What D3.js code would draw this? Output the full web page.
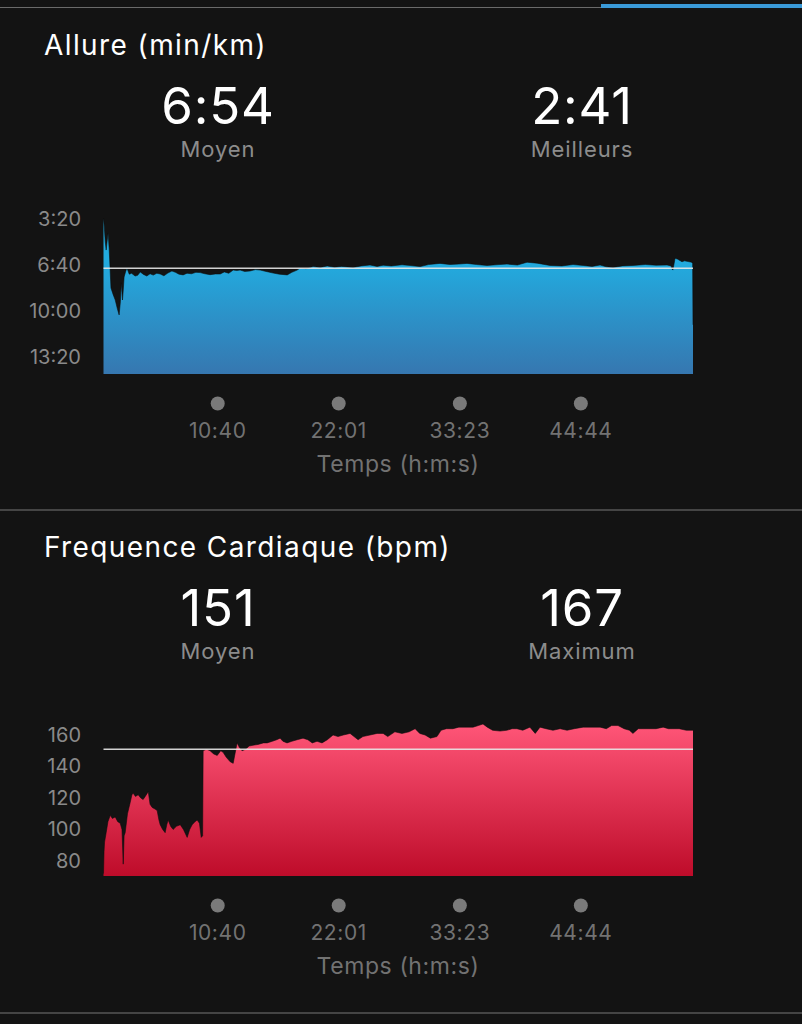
<!DOCTYPE html>
<html><head><meta charset="utf-8">
<script src="https://cdn.jsdelivr.net/npm/d3@7"></script>
<style>
html,body{margin:0;padding:0;background:#131313;}
svg{display:block;}
text{font-family:Inter,"Liberation Sans",Arial,sans-serif;}
</style></head>
<body>
<script>
// ---------- DATA ----------
const xTickValues = [640, 1321, 2003, 2684];           // seconds
const xDomain = [0, 3318];                              // seconds

const paceTitle = "Allure (min/km)";
const paceStats = [{value:"6:54", label:"Moyen"}, {value:"2:41", label:"Meilleurs"}];
const paceAvg = 414;                                    // s/km
const paceTicks = [200, 400, 600, 800];                 // s/km -> 3:20 6:40 10:00 13:20
const paceTime = [0,4,10,15,20,26,32,42,55,66,78,88,95,100,104,107,112,116,124,132,145,158,178,192,207,225,244,262,280,300,319,340,362,385,405,425,448,470,495,520,544,570,600,630,657,680,705,730,750,769,795,825,855,882,915,955,990,1034,1060,1090,1107,1140,1180,1220,1259,1300,1340,1405,1450,1500,1540,1574,1620,1680,1726,1782,1830,1894,1950,2000,2046,2100,2159,2210,2271,2330,2384,2440,2513,2580,2643,2700,2750,2795,2830,2868,2920,2980,3050,3110,3172,3195,3200,3205,3217,3230,3256,3270,3284,3310,3316,3318];
const paceVal  = [197,230,300,335,300,261,330,500,530,552,590,617,560,478,520,552,500,452,430,413,440,436,448,445,430,441,448,438,444,436,439,447,435,426,432,440,443,436,438,432,433,438,442,439,439,430,436,422,424,422,428,426,420,422,428,435,440,443,432,422,413,416,407,411,404,410,406,411,404,400,406,401,404,399,402,407,398,393,398,396,393,398,402,399,396,400,388,392,402,404,398,402,406,400,408,411,404,402,398,401,400,404,418,422,371,374,386,382,384,388,393,660];

const hrTitle = "Frequence Cardiaque (bpm)";
const hrStats = [{value:"151", label:"Moyen"}, {value:"167", label:"Maximum"}];
const hrAvg = 151;
const hrTicks = [80, 100, 120, 140, 160];
const hrTime = [0,3,6,15,25,38,50,66,80,94,104,111,116,122,135,150,160,167,180,195,210,223,235,252,262,274,290,302,312,319,333,347,356,364,378,392,410,432,450,471,485,499,515,527,540,550,558,561,580,600,620,640,660,673,690,713,730,740,752,765,780,800,820,842,870,900,921,950,975,994,1010,1033,1060,1090,1123,1150,1175,1202,1230,1260,1292,1320,1350,1388,1410,1433,1460,1500,1540,1574,1600,1640,1680,1720,1754,1780,1810,1840,1877,1900,1930,1967,2000,2040,2080,2110,2136,2160,2190,2232,2270,2300,2327,2360,2400,2430,2457,2490,2530,2570,2609,2650,2700,2750,2795,2830,2860,2896,2930,2960,2980,3010,3040,3076,3110,3150,3180,3205,3240,3280,3318];
const hrVal  = [72,86,92,98,105,109,107,108,105,104,100,78,96,98,110,117,122,123,121,122,120,119,121,124,116,114,113,112,106,103,100,98,103,106,102,100,102,103,100,95,100,103,105,106,104,95,96,150,151,150,148,147,150,149,146,143,142,148,155,152,150,151,153,153.5,154,155,155,156,157,158,156,155,156,157,158,157,155,156,155,157,160,159,160,161,159,157,159,160,161,161,159,162,161,162,164,161,160,158,159,163,164,164,165,165,165,166,167,165,163,162.5,163,164,164,163,165,161,165,164,163,164,163,164,165,165,165,164,166,166,164,163,161,164,164,164,164,165,164,164,164,163,163];

// ---------- DRAW ----------
const W = 802, H = 1024;
const FONT = "Inter, Liberation Sans, Arial, sans-serif";
const svg = d3.select("body").append("svg").attr("width", W).attr("height", H);
svg.append("rect").attr("width", W).attr("height", H).attr("fill", "#131313");
const defs = svg.append("defs");

// top indicator bar
svg.append("line").attr("x1",0).attr("x2",W).attr("y1",7.5).attr("y2",7.5).attr("stroke","#6a6a6a").attr("stroke-width",1);
svg.append("rect").attr("x",601).attr("y",4).attr("width",W-601).attr("height",4).attr("fill","#3a9ad8");
// dividers
svg.append("rect").attr("x",0).attr("y",509).attr("width",W).attr("height",2).attr("fill","#454545");
svg.append("rect").attr("x",0).attr("y",1012).attr("width",W).attr("height",2).attr("fill","#454545");

const fmtMS = s => { const m = Math.floor(s/60), r = Math.round(s%60); return m + ":" + (r<10?"0":"") + r; };

function panel(opt){
  const g = svg.append("g").attr("transform", `translate(0,${opt.dy})`);
  g.append("text").attr("x",44).attr("y",55).attr("fill","#ffffff").attr("font-size",28).attr("letter-spacing",1.4).text(opt.title);
  opt.stats.forEach((s,i)=>{
    const cx = [218,582][i];
    g.append("text").attr("x",cx).attr("y",124).attr("text-anchor","middle").attr("fill","#ffffff").attr("font-size",51).attr("letter-spacing",0.8).text(s.value);
    g.append("text").attr("x",cx).attr("y",156.5).attr("text-anchor","middle").attr("fill","#8c8c8c").attr("font-size",22).attr("letter-spacing",0.9).text(s.label);
  });

  const x = d3.scaleLinear().domain(xDomain).range([103.5, 693]);
  const y = opt.y;
  const data = opt.time.map((t,i)=>({t, v: opt.val[i]}));

  const grad = defs.append("linearGradient").attr("id", opt.id).attr("gradientUnits","userSpaceOnUse")
    .attr("x1",0).attr("x2",0).attr("y1", opt.gTop).attr("y2", opt.gBot);
  grad.append("stop").attr("offset","0%").attr("stop-color", opt.c1);
  grad.append("stop").attr("offset","100%").attr("stop-color", opt.c2);

  const area = d3.area().x(d=>x(d.t)).y0(y(opt.base)).y1(d=>y(d.v)).curve(d3.curveLinear);
  g.append("path").datum(data).attr("d", area).attr("fill", `url(#${opt.id})`);
  g.append("path").datum(data).attr("d", d3.line().x(d=>x(d.t)).y(d=>y(d.v))).attr("fill","none")
    .attr("stroke","#0b0b0b").attr("stroke-width",0.8).attr("stroke-opacity",0.7);

  // average line
  g.append("line").attr("x1", x(xDomain[0])).attr("x2", x(xDomain[1])).attr("y1", y(opt.avg)).attr("y2", y(opt.avg))
    .attr("stroke","#e8e8e8").attr("stroke-width",1.5).attr("stroke-opacity",0.9);

  // y axis
  const ya = g.append("g").attr("transform","translate(81,0)")
    .call(d3.axisLeft(y).tickValues(opt.yTicks).tickSize(0).tickPadding(0).tickFormat(opt.yFmt));
  ya.select(".domain").remove();
  ya.selectAll("text").attr("fill","#8a8a8a").attr("font-size",20).attr("font-family",FONT);

  // x axis with dots
  const xa = g.append("g").attr("transform","translate(0,403.5)")
    .call(d3.axisBottom(x).tickValues(xTickValues).tickSize(0).tickPadding(20).tickFormat(fmtMS));
  xa.select(".domain").remove();
  xa.selectAll(".tick").append("circle").attr("r",7).attr("fill","#7a7a7a");
  xa.selectAll("text").attr("fill","#727272").attr("font-size",21).attr("letter-spacing",0.6).attr("font-family",FONT);
  g.append("text").attr("x",398).attr("y",472).attr("text-anchor","middle").attr("fill","#727272").attr("font-size",23).attr("letter-spacing",0.6).text("Temps (h:m:s)");
}

panel({
  dy: 0, id: "gPace", title: paceTitle, stats: paceStats,
  time: paceTime, val: paceVal, avg: paceAvg, yTicks: paceTicks, yFmt: fmtMS,
  y: d3.scaleLinear().domain([200, 800]).range([219, 357]), base: 874,
  gTop: 262, gBot: 374, c1: "#22abdf", c2: "#3677b0"
});
panel({
  dy: 502, id: "gHr", title: hrTitle, stats: hrStats,
  time: hrTime, val: hrVal, avg: hrAvg, yTicks: hrTicks, yFmt: d3.format("d"),
  y: d3.scaleLinear().domain([80, 160]).range([359, 233]), base: 70.5,
  gTop: 222, gBot: 374, c1: "#ff5678", c2: "#be0c2a"
});
</script>
</body></html>
